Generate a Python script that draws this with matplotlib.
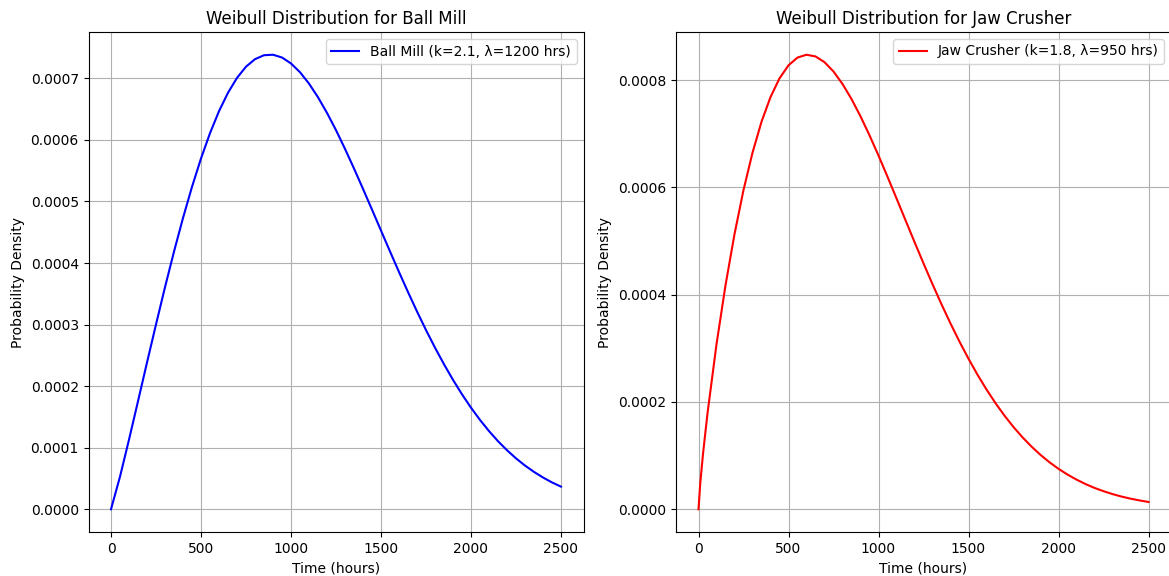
import matplotlib
matplotlib.use('Agg')
import matplotlib.pyplot as plt

# Ball mill curve (k=2.1, lambda=1200 hrs)
ball_hours = [0, 50, 100, 150, 200, 250, 300, 350, 400, 450, 500, 550, 600, 650,
              700, 750, 800, 850, 900, 950, 1000, 1050, 1100, 1150, 1200, 1250,
              1300, 1350, 1400, 1450, 1500, 1550, 1600, 1650, 1700, 1750, 1800,
              1850, 1900, 1950, 2000, 2050, 2100, 2150, 2200, 2250, 2300, 2350,
              2400, 2450, 2500]
ball_pdf = [0.0, 0.0000530, 0.0001131, 0.0001755, 0.0002383, 0.0003002,
            0.0003607, 0.0004185, 0.0004731, 0.0005237, 0.0005698, 0.0006109,
            0.0006466, 0.0006765, 0.0007007, 0.0007189, 0.0007311, 0.0007375,
            0.0007383, 0.0007338, 0.0007241, 0.0007099, 0.0006914, 0.0006692,
            0.0006438, 0.0006158, 0.0005854, 0.0005535, 0.0005204, 0.0004867,
            0.0004527, 0.0004188, 0.0003854, 0.0003528, 0.0003213, 0.0002911,
            0.0002625, 0.0002355, 0.0002102, 0.0001867, 0.0001650, 0.0001451,
            0.0001270, 0.0001106, 0.0000959, 0.0000827, 0.0000710, 0.0000607,
            0.0000516, 0.0000436, 0.0000368]

# Jaw crusher curve (k=1.8, lambda=950 hrs)
jaw_hours = [0, 10, 25, 50, 100, 150, 200, 250, 300, 350, 400, 450, 500, 550,
             600, 650, 700, 750, 800, 850, 900, 950, 1000, 1050, 1100, 1150,
             1200, 1250, 1300, 1350, 1400, 1450, 1500, 1550, 1600, 1650, 1700,
             1750, 1800, 1850, 1900, 1950, 2000, 2050, 2100, 2150, 2200, 2250,
             2300, 2350, 2400, 2450, 2500]
jaw_pdf = [0.0, 0.0000496, 0.0001031, 0.0001788, 0.0003075, 0.0004174,
           0.0005128, 0.0005949, 0.0006645, 0.0007222, 0.0007682, 0.0008031,
           0.0008275, 0.0008419, 0.0008472, 0.0008440, 0.0008333, 0.0008159,
           0.0007927, 0.0007646, 0.0007324, 0.0006970, 0.0006593, 0.0006198,
           0.0005795, 0.0005388, 0.0004982, 0.0004583, 0.0004195, 0.0003821,
           0.0003463, 0.0003124, 0.0002806, 0.0002508, 0.0002232, 0.0001978,
           0.0001745, 0.0001533, 0.0001341, 0.0001169, 0.0001014, 0.0000876,
           0.0000754, 0.0000647, 0.0000553, 0.0000470, 0.0000398, 0.0000337,
           0.0000283, 0.0000237, 0.0000198, 0.0000165, 0.0000136]

W, H = 1169, 576
fig = plt.figure(figsize=(W / 100, H / 100), dpi=100)

# axes placed in pixel coords of the reference (right one runs off the edge a bit)
top, bottom = 32, 532
ax1 = fig.add_axes([88.5 / W, 1 - bottom / H, 495 / W, (bottom - top) / H])
ax2 = fig.add_axes([676 / W, 1 - bottom / H, 495 / W, (bottom - top) / H])

ax1.plot(ball_hours, ball_pdf, color='blue', label='Ball Mill (k=2.1, λ=1200 hrs)')
ax1.set_title('Weibull Distribution for Ball Mill', fontsize=12)
ax1.set_xlabel('Time (hours)')
ax1.set_ylabel('Probability Density')
ax1.legend()
ax1.grid(True)

ax2.plot(jaw_hours, jaw_pdf, color='red', label='Jaw Crusher (k=1.8, λ=950 hrs)')
ax2.set_title('Weibull Distribution for Jaw Crusher', fontsize=12)
ax2.set_xlabel('Time (hours)')
ax2.set_ylabel('Probability Density')
ax2.legend()
ax2.grid(True)

fig.savefig('out.png', dpi=100)
